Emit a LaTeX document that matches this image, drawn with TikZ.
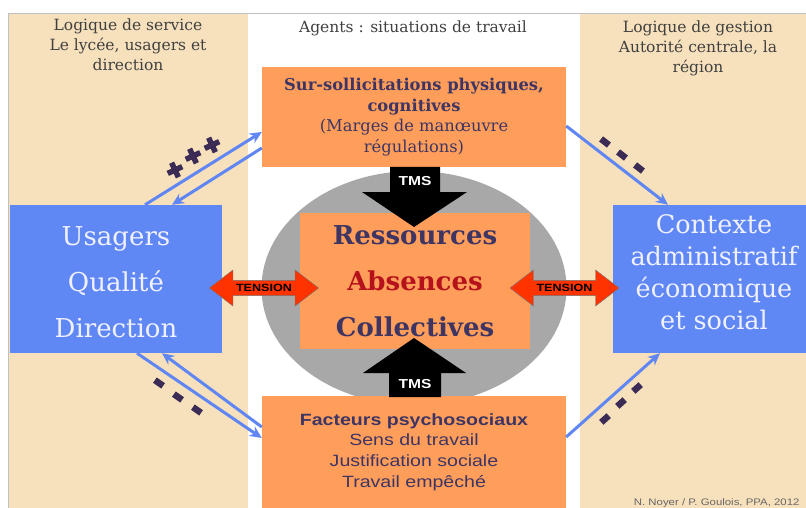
\documentclass[tikz,border=0pt]{standalone}
\usepackage{fontspec}
\setmainfont{DejaVu Serif}
\setsansfont{Liberation Sans}
\newfontfamily\widesans[FakeStretch=1.2]{Liberation Sans}
\usetikzlibrary{arrows.meta,shapes.arrows,shapes.geometric}

\definecolor{beige}{HTML}{F7E1BD}
\definecolor{bleu}{HTML}{6088F5}
\definecolor{boxorange}{HTML}{FF9D5A}
\definecolor{fleche}{HTML}{5F86F2}
\definecolor{encre}{HTML}{3E3562}
\definecolor{rouge}{HTML}{B5121B}
\definecolor{tensionrouge}{HTML}{FF3300}
\definecolor{gris}{HTML}{A8A8A8}
\definecolor{marque}{HTML}{3B2B55}

\begin{document}
\begin{tikzpicture}[x=1pt,y=-1pt]
      \tikzstyle{head}=[text=black!75,align=center,font=\fontsize{15.5}{20}\selectfont]
      \tikzstyle{bleubox}=[rectangle,fill=bleu,inner sep=0pt]
      \tikzstyle{bleutext}=[text=white!94!blue,align=center]
      \tikzstyle{orbox}=[rectangle,fill=boxorange,inner sep=0pt,text=encre,align=center]
      \tikzstyle{tensionarrow}=[double arrow,fill=tensionrouge,draw=black!55,thin,
        double arrow head extend=10pt,double arrow tip angle=75,
        inner xsep=2pt,inner ysep=3.5pt,
        minimum height=109pt,minimum width=36pt,
        font=\widesans\bfseries\fontsize{10.5}{10.5}\selectfont]
      \tikzstyle{tms}=[fill=black]
      \tikzstyle{tmstext}=[text=white,font=\widesans\bfseries\fontsize{13}{13}\selectfont]
      \tikzstyle{bluearrow}=[color=fleche,line width=3pt,-{Stealth[length=12pt,width=11pt]}]

      \useasboundingbox (0,0) rectangle (806,508);
      \fill[white] (0,0) rectangle (806,508);

      % the three columns
      \fill[beige] (8,13) rectangle (248,508);
      \fill[beige] (580,13) rectangle (806,508);
      \draw[black!25,thick] (8,508) -- (8,13) -- (806,13);

      \node[head](service) at (128,45){Logique de service\\Le lycée,\ usagers et\\direction};
      \node[head](agents) at (413,28){Agents : situations\ de travail};
      \node[head](gestion) at (698,48){Logique de gestion\\Autorité centrale, la\\région};

      % centre
      \node[ellipse,fill=gris,minimum width=305pt,minimum height=234pt](cercle) at (414,288){};
      \node[orbox,minimum width=230pt,minimum height=136pt,
        font=\bfseries\fontsize{26}{46}\selectfont](res) at (415,281)
        {Ressources\\\textcolor{rouge}{Absences}\\Collectives};

      \node[orbox,minimum width=304pt,minimum height=100pt,
        font=\fontsize{16.3}{20.7}\selectfont](sur) at (414,117)
        {\textbf{Sur-sollicitations physiques,}\\\textbf{cognitives}\\(Marges de manœuvre\\régulations)};

      \node[orbox,minimum width=304pt,minimum height=112pt,
        font=\widesans\fontsize{16.3}{20.7}\selectfont](fact) at (414,452)
        {\textbf{Facteurs\ psychosociaux}\\Sens du travail\\Justification sociale\\Travail empêché};

      % TMS arrows
      \fill[tms] (390,167) -- (440,167) -- (440,192) -- (467,192) -- (414,227)
        -- (362,192) -- (390,192) -- cycle;
      \node[tmstext](tms1) at (415,181){TMS};
      \fill[tms] (389,397) -- (441,397) -- (441,373) -- (466,373) -- (414,338)
        -- (363,373) -- (389,373) -- cycle;
      \node[tmstext](tms2) at (415,384){TMS};

      % side boxes
      \node[bleubox,minimum width=212pt,minimum height=148pt](usg) at (116,279){};
      \node[bleutext,font=\fontsize{26}{46}\selectfont](usgtext) at (116,282)
        {Usagers\\Qualité\\Direction};
      \node[bleubox,minimum width=198pt,minimum height=148pt](ctx) at (712,279){};
      \node[bleutext,font=\fontsize{25.5}{32}\selectfont](ctxtext) at (714,272)
        {Contexte\\administratif\\économique\\et social};

      \node[tensionarrow](t1) at (264,288){TENSION};
      \node[tensionarrow](t2) at (564.5,288){TENSION};

      \path[bluearrow]
      ([xshift=29pt]usg.north) edge ([yshift=-15pt]sur.west)
      ([yshift=-31pt]sur.west) edge ([xshift=56pt]usg.north)
      ([xshift=21pt]usg.south) edge ([yshift=14pt]fact.west)
      ([yshift=25pt]fact.west) edge ([xshift=46pt]usg.south)
      ([yshift=-9pt]sur.east) edge ([xshift=-44pt]ctx.north)
      ([yshift=15pt]fact.east) edge ([xshift=-52pt]ctx.south);

      % marks along the arrows
      \foreach \x/\y in {175/170,193/156,212/145}{
        \begin{scope}[shift={(\x,\y)},rotate=25]
          \draw[marque,line width=5.5pt] (-8,0) -- (8,0) (0,-8) -- (0,8);
        \end{scope}
      }
      \foreach \x/\y/\a in {605/142/-38,622/155/-38,639/168/-38,
                            159/383/-35,178/397/-35,197/410/-35,
                            605/419/42,621/403/42,637/388/42}{
        \draw[marque,line width=6.5pt] (\x,\y) ++(\a:-5pt) -- ++(\a:10pt);
      }

      \node[anchor=base east,text=black!60,font=\widesans\fontsize{9.5}{9.5}\selectfont](credit)
        at (803,505){N. Noyer / P. Goulois, PPA, 2012};
\end{tikzpicture}
\end{document}
